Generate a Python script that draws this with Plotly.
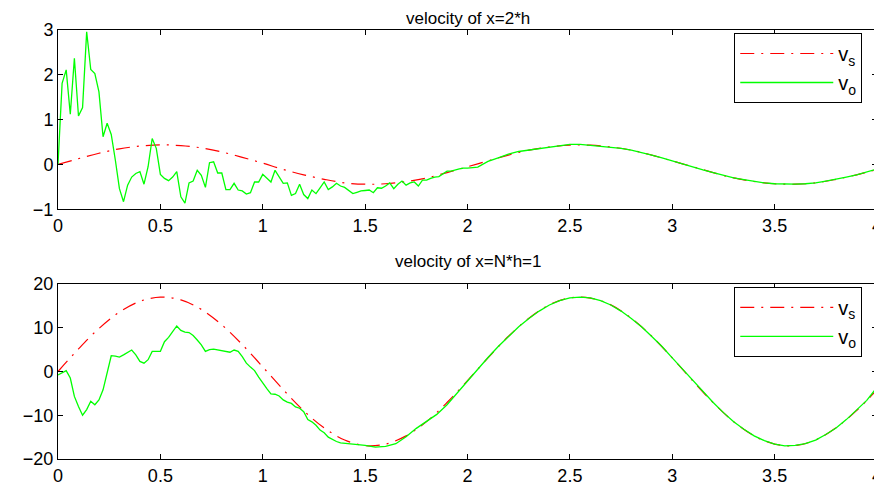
import plotly.graph_objects as go
from plotly.subplots import make_subplots

# smooth reference curve (v_s), sampled every 0.1
t_s = [round(i * 0.1, 2) for i in range(41)]
vs_top = [0, 0.13, 0.25, 0.35, 0.41, 0.44, 0.42, 0.37, 0.28, 0.16, 0.03,
          -0.11, -0.23, -0.33, -0.41, -0.44, -0.43, -0.38, -0.30, -0.18, -0.05,
          0.08, 0.21, 0.32, 0.39, 0.43, 0.43, 0.39, 0.32, 0.21, 0.08,
          -0.05, -0.18, -0.30, -0.38, -0.43, -0.44, -0.41, -0.33, -0.23, -0.11]
vs_bot = [0, 5.15, 9.83, 13.57, 16.03, 16.99, 16.35, 14.18, 10.66, 6.14, 1.05,
          -4.15, -8.96, -12.9, -15.67, -16.93, -16.59, -14.72, -11.46, -7.09, -2.09,
          3.11, 8.04, 12.17, 15.25, 16.8, 16.78, 15.23, 12.19, 8.04, 3.11,
          -2.13, -7.14, -11.48, -14.72, -16.59, -16.93, -15.66, -12.87, -8.94, -4.17]

# observed curve (v_o), top panel
t_o_top = [0.00, 0.02, 0.04, 0.06, 0.08, 0.10, 0.12, 0.14, 0.16, 0.18, 0.20, 0.22, 0.24, 0.26, 0.28,
           0.30, 0.32, 0.34, 0.36, 0.38, 0.40, 0.42, 0.44, 0.46, 0.48, 0.50, 0.52, 0.54, 0.56, 0.58,
           0.60, 0.62, 0.64, 0.66, 0.68, 0.70, 0.72, 0.74, 0.76, 0.78, 0.80, 0.82, 0.84, 0.86, 0.88,
           0.90, 0.92, 0.94, 0.96, 0.98, 1.00, 1.02, 1.04, 1.06, 1.08, 1.10, 1.12, 1.14, 1.16, 1.18,
           1.20, 1.22, 1.24, 1.26, 1.28, 1.30, 1.32, 1.34, 1.36, 1.38, 1.40, 1.42, 1.44, 1.46, 1.48,
           1.50, 1.52, 1.54, 1.56, 1.58, 1.60, 1.62, 1.64, 1.66, 1.68, 1.70, 1.72, 1.74, 1.76, 1.78,
           1.80, 1.82, 1.84, 1.86, 1.88, 1.90, 1.92, 1.94, 1.96, 1.98, 2.00,
           2.05, 2.10, 2.15, 2.20, 2.25, 2.30, 2.35, 2.40, 2.45, 2.50, 2.55, 2.60, 2.65, 2.70, 2.75,
           2.80, 2.85, 2.90, 2.95, 3.00, 3.05, 3.10, 3.15, 3.20, 3.25, 3.30, 3.35, 3.40, 3.45, 3.50,
           3.55, 3.60, 3.65, 3.70, 3.75, 3.80, 3.85, 3.90, 3.95, 4.00]
vo_top = [0, 1.81, 2.11, 1.12, 2.37, 1.08, 1.27, 2.96, 2.12, 2.03, 1.62, 0.62, 0.92, 0.67, 0.10,
          -0.54, -0.83, -0.46, -0.28, -0.20, -0.16, -0.44, -0.05, 0.58, 0.36, -0.22, -0.31, -0.36, -0.28, -0.16,
          -0.72, -0.86, -0.41, -0.37, -0.13, -0.24, -0.51, 0.04, 0.06, -0.19, -0.19, -0.56, -0.56, -0.42, -0.57,
          -0.59, -0.66, -0.63, -0.39, -0.39, -0.22, -0.30, -0.39, -0.13, -0.28, -0.42, -0.41, -0.69, -0.65, -0.44,
          -0.67, -0.76, -0.57, -0.65, -0.52, -0.39, -0.56, -0.50, -0.42, -0.48, -0.51, -0.58, -0.65, -0.62, -0.59,
          -0.58, -0.57, -0.63, -0.52, -0.53, -0.48, -0.41, -0.54, -0.44, -0.37, -0.46, -0.41, -0.39, -0.48, -0.35,
          -0.35, -0.31, -0.28, -0.27, -0.20, -0.15, -0.15, -0.12, -0.10, -0.08, -0.08,
          -0.06, 0.07, 0.15, 0.23, 0.29, 0.32, 0.35, 0.39, 0.42, 0.45, 0.45, 0.43, 0.41, 0.39, 0.36,
          0.32, 0.27, 0.21, 0.15, 0.08, 0.02, -0.05, -0.12, -0.18, -0.24, -0.30, -0.34, -0.38, -0.41, -0.43,
          -0.44, -0.44, -0.43, -0.41, -0.37, -0.33, -0.28, -0.23, -0.17, -0.10]

# observed curve (v_o), bottom panel
t_o_bot = [0.00, 0.02, 0.04, 0.06, 0.08, 0.10, 0.12, 0.14, 0.16, 0.18, 0.20, 0.22, 0.24, 0.26, 0.28,
           0.30, 0.32, 0.34, 0.36, 0.38, 0.40, 0.42, 0.44, 0.46, 0.48, 0.50, 0.52, 0.54, 0.56, 0.58,
           0.60, 0.62, 0.64, 0.66, 0.68, 0.70, 0.72, 0.74, 0.76, 0.78, 0.80, 0.82, 0.84, 0.86, 0.88,
           0.90, 0.92, 0.94, 0.96, 0.98, 1.00, 1.02, 1.04, 1.06, 1.08, 1.10, 1.12, 1.14, 1.16, 1.18,
           1.20, 1.22, 1.24, 1.26, 1.28, 1.30, 1.32, 1.34, 1.36, 1.38, 1.40,
           1.45, 1.50, 1.55, 1.60, 1.65, 1.70, 1.75, 1.80, 1.85, 1.90, 1.95, 2.00,
           2.05, 2.10, 2.15, 2.20, 2.25, 2.30, 2.35, 2.40, 2.45, 2.50, 2.55, 2.60, 2.65, 2.70, 2.75,
           2.80, 2.85, 2.90, 2.95, 3.00, 3.05, 3.10, 3.15, 3.20, 3.25, 3.30, 3.35, 3.40, 3.45, 3.50,
           3.55, 3.60, 3.65, 3.70, 3.75, 3.80, 3.85, 3.90, 3.95, 4.00]
vo_bot = [-0.8, -0.3, 0.2, -1.5, -5.7, -8.0, -10.0, -8.7, -6.8, -7.6, -6.5, -4.2, -0.4, 3.6, 3.5,
          3.3, 3.8, 4.3, 4.9, 3.8, 2.3, 1.9, 2.7, 4.6, 4.6, 4.6, 6.8, 7.8, 9.1, 10.4,
          9.4, 9.0, 8.9, 8.2, 7.2, 6.1, 4.6, 5.0, 5.1, 4.9, 4.8, 4.6, 4.4, 4.9, 4.6,
          3.4, 1.9, 1.0, 0.2, -1.3, -2.7, -3.9, -5.1, -5.2, -5.6, -6.5, -7.0, -7.3, -8.1, -8.4,
          -9.2, -11.0, -11.5, -12.3, -13.4, -14.0, -15.0, -15.6, -16.0, -16.3, -16.4,
          -16.6, -16.9, -17.3, -17.1, -16.5, -14.9, -13.0, -11.4, -9.8, -7.6, -4.9, -2.3,
          0.6, 3.2, 5.7, 8.0, 10.2, 12.1, 13.8, 15.2, 16.2, 16.8, 17.0, 16.8, 16.2, 15.2, 13.8,
          12.1, 10.2, 8.0, 5.7, 3.1, 0.5, -2.1, -4.7, -7.1, -9.4, -11.5, -13.2, -14.7, -15.8, -16.6,
          -17.0, -16.9, -16.5, -15.7, -14.4, -12.9, -11.0, -8.9, -6.6, -3.6]

x_ticks = [0, 0.5, 1, 1.5, 2, 2.5, 3, 3.5, 4]
x_ticktext = ["0", "0.5", "1", "1.5", "2", "2.5", "3", "3.5", "4"]

FONT = "Liberation Sans, Arial, Helvetica, sans-serif"
RED = "#ff0000"
GREEN = "#00ff00"
DASH = "14px,7px,2px,7px"

fig = make_subplots(rows=2, cols=1, vertical_spacing=0.175)

fig.add_trace(go.Scatter(x=t_s, y=vs_top, mode="lines", name="v<sub>s</sub>",
                         line=dict(color=RED, width=1.2, dash=DASH, shape="spline"),
                         legend="legend"), row=1, col=1)
fig.add_trace(go.Scatter(x=t_o_top, y=vo_top, mode="lines", name="v<sub>o</sub>",
                         line=dict(color=GREEN, width=1.3), legend="legend"), row=1, col=1)
fig.add_trace(go.Scatter(x=t_s, y=vs_bot, mode="lines", name="v<sub>s</sub>",
                         line=dict(color=RED, width=1.2, dash=DASH, shape="spline"),
                         legend="legend2"), row=2, col=1)
fig.add_trace(go.Scatter(x=t_o_bot, y=vo_bot, mode="lines", name="v<sub>o</sub>",
                         line=dict(color=GREEN, width=1.3), legend="legend2"), row=2, col=1)

axis_style = dict(showline=True, linecolor="black", linewidth=1, mirror="ticks",
                  ticks="inside", ticklen=5, tickcolor="black", showgrid=False,
                  zeroline=False, automargin=False,
                  tickfont=dict(family=FONT, size=18, color="black"))

fig.update_xaxes(range=[0, 4], tickvals=x_ticks, ticktext=x_ticktext,
                 ticklabeloverflow="allow", **axis_style)
fig.update_yaxes(**axis_style)
fig.update_yaxes(range=[-1, 3], dtick=1, row=1, col=1)
fig.update_yaxes(range=[-20, 20], dtick=10, row=2, col=1)
fig.update_xaxes(domain=[0, 1])
fig.update_layout(yaxis=dict(domain=[0.582, 1.0]), yaxis2=dict(domain=[0.0, 0.408]))

legend_style = dict(bordercolor="black", borderwidth=1, bgcolor="white",
                    font=dict(family=FONT, size=20, color="black"),
                    xanchor="right", yanchor="top", xref="paper", yref="paper",
                    tracegroupgap=0, itemwidth=93)

# the page body adds an 8px offset, so the figure is sized to the visible area
fig.update_layout(
    width=874, height=477,
    margin=dict(l=50, r=5, t=22, b=26, autoexpand=False),
    paper_bgcolor="white", plot_bgcolor="white",
    showlegend=True,
    legend=dict(x=0.982, y=0.993, **legend_style),
    legend2=dict(x=0.982, y=0.401, **legend_style),
    annotations=[
        dict(text="velocity of x=2*h", x=0.5, y=1.0, xref="paper", yref="paper",
             xanchor="center", yanchor="top", yshift=23, showarrow=False,
             font=dict(family=FONT, size=17, color="black")),
        dict(text="velocity of x=N*h=1", x=0.5, y=0.408, xref="paper", yref="paper",
             xanchor="center", yanchor="bottom", yshift=11, showarrow=False,
             font=dict(family=FONT, size=17, color="black")),
    ],
)

fig.write_html("out.html")
